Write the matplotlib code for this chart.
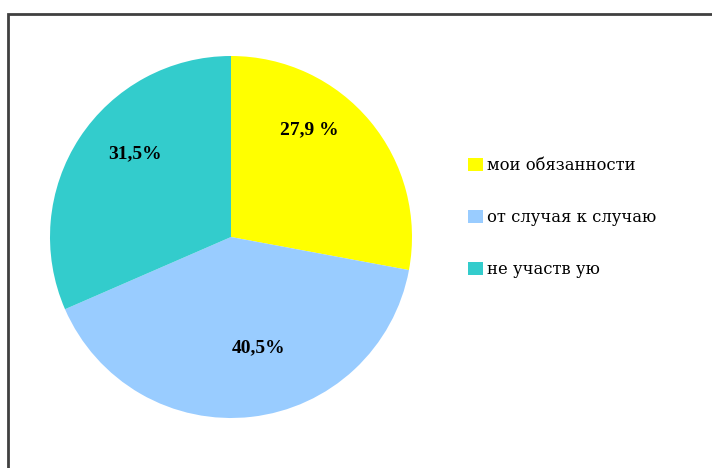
import matplotlib
matplotlib.use("Agg")
import matplotlib.pyplot as plt
from matplotlib.patches import Rectangle

categories = ["мои обязанности", "от случая к случаю", "не участвую"]
values = [27.9, 40.5, 31.5]
value_labels = ["27,9 %", "40,5%", "31,5%"]
colors = ["#FFFF00", "#99CCFF", "#33CCCC"]
legend_labels = ["мои обязанности", "от случая к случаю", "не участв ую"]

# label placement (data coords, pie radius = 1)
label_pos = [(0.43, 0.59), (0.155, -0.61), (-0.53, 0.46)]

W, H = 712, 468
fig = plt.figure(figsize=(W / 100, H / 100), dpi=100)
fig.patch.set_facecolor("white")

# outer frame
fig.patches.append(Rectangle((8 / W, -0.05), 1.1, 1 - 14 / H + 0.05,
                             transform=fig.transFigure, fill=False,
                             edgecolor="#404040", linewidth=2))

cx, cy, r = 231, 237, 181
ax = fig.add_axes([(cx - r) / W, (H - cy - r) / H, 2 * r / W, 2 * r / H])
wedges, _ = ax.pie(values, colors=colors, startangle=90, counterclock=False,
                   wedgeprops=dict(linewidth=0), normalize=True)
ax.set_xlim(-1, 1)
ax.set_ylim(-1, 1)
ax.set_aspect("equal")
ax.axis("off")

for (x, y), t in zip(label_pos, value_labels):
    ax.text(x, y, t, ha="center", va="center", fontsize=14,
            fontweight="bold", family="Liberation Serif", color="black")

fig.legend(wedges, legend_labels, loc="upper left",
           bbox_to_anchor=(468 / W, 1 - 157 / H), frameon=False,
           prop=dict(family="DejaVu Serif", size=11.8),
           handlelength=0.9, handleheight=0.9, handletextpad=0.25,
           labelspacing=2.14, borderpad=0, borderaxespad=0)

fig.savefig("out.png", dpi=100)
